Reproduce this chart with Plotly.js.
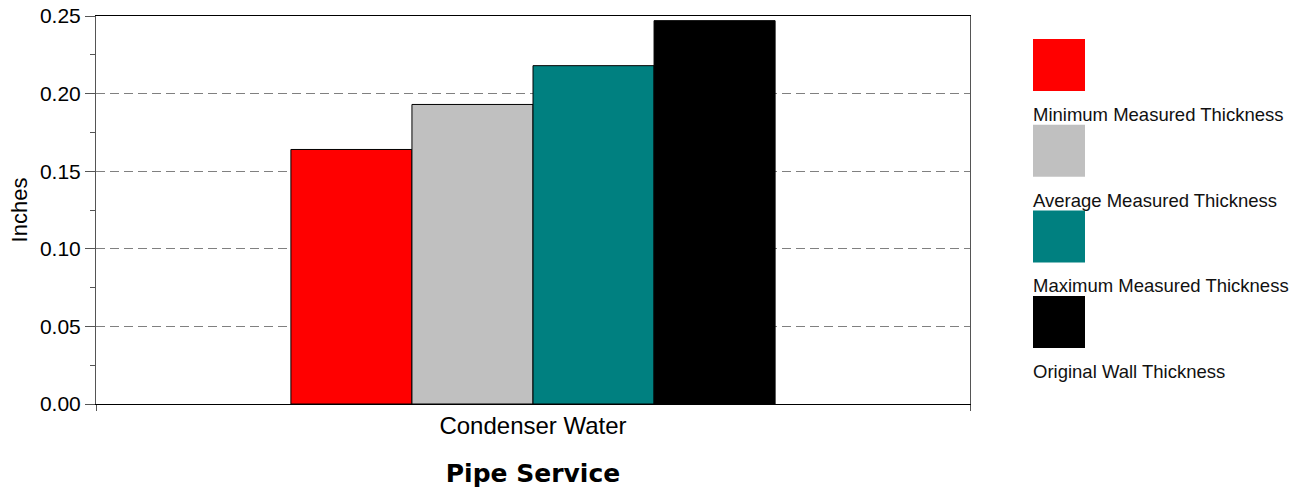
<!DOCTYPE html>
<html>
<head>
<meta charset="utf-8">
<script src="https://cdn.plot.ly/plotly-3.0.1.min.js"></script>
<style>html,body{margin:0;padding:0;background:#fff;}#chart{width:1302px;height:488px;}</style>
</head>
<body>
<div id="chart"></div>
<script>
const categories = ["Condenser Water"];
const seriesNames = ["Minimum Measured Thickness", "Average Measured Thickness", "Maximum Measured Thickness", "Original Wall Thickness"];
const seriesColors = ["#ff0000", "#c0c0c0", "#008080", "#000000"];
const minimumValues = [0.164];
const averageValues = [0.193];
const maximumValues = [0.218];
const originalValues = [0.247];
const seriesValues = [minimumValues, averageValues, maximumValues, originalValues];

const font = "'Liberation Sans', Arial, sans-serif";

const traces = seriesNames.map((name, i) => ({
  type: "bar",
  name: name,
  x: categories,
  y: seriesValues[i],
  marker: {color: seriesColors[i], line: {color: "#000000", width: 1}},
  showlegend: false,
  hoverinfo: "y+name"
}));

// Custom legend: square swatch with label below it
const shapes = [];
const annotations = [];
const legX0 = 1033, legTop = 39, sw = 52, step = 85.7;
seriesNames.forEach((name, i) => {
  const top = legTop + i * step;
  shapes.push({
    type: "rect", xref: "paper", yref: "paper",
    x0: (legX0 - 96) / 874, x1: (legX0 + sw - 96) / 874,
    y0: 1 - (top + sw - 16) / 388, y1: 1 - (top - 16) / 388,
    fillcolor: seriesColors[i], line: {width: 0}
  });
  annotations.push({
    xref: "paper", yref: "paper",
    x: (legX0 - 2 - 96) / 874, y: 1 - (top + sw + 23.5 - 16) / 388,
    xanchor: "left", yanchor: "middle", showarrow: false,
    text: name, font: {family: font, size: 18.5, color: "#111"}
  });
});

const layout = {
  width: 1302, height: 488,
  margin: {l: 96, r: 332, t: 16, b: 84, pad: 0},
  paper_bgcolor: "#ffffff", plot_bgcolor: "#ffffff",
  barmode: "group",
  bargap: 0.446, bargroupgap: 0,
  showlegend: false,
  font: {family: font, size: 16, color: "#000"},
  xaxis: {
    type: "category",
    range: [-0.5, 0.5],
    showline: true, linecolor: "#000", linewidth: 1, mirror: true,
    ticks: "outside", tickson: "boundaries", ticklen: 6, tickcolor: "#555",
    showgrid: false,
    tickfont: {family: font, size: 24, color: "#000"},
    title: {text: "Pipe Service", font: {family: "'DejaVu Sans', sans-serif", size: 25, color: "#000", weight: "bold"}, standoff: 28},
    fixedrange: true
  },
  yaxis: {
    range: [0, 0.25],
    tickvals: [0, 0.05, 0.1, 0.15, 0.2, 0.25],
    tickformat: ".2f",
    showline: true, linecolor: "#555", linewidth: 1, mirror: true,
    ticks: "outside", ticklen: 10, tickcolor: "#555",
    minor: {dtick: 0.025, ticks: "outside", ticklen: 5, tickcolor: "#555", showgrid: false},
    showgrid: true, gridcolor: "#808080", griddash: "9px,5px", gridwidth: 1,
    zeroline: false,
    tickfont: {family: font, size: 21, color: "#000"},
    title: {text: "Inches", font: {family: font, size: 22, color: "#000"}, standoff: 6},
    fixedrange: true
  },
  shapes: shapes,
  annotations: annotations
};

Plotly.newPlot("chart", traces, layout, {displayModeBar: false, staticPlot: true});
</script>
</body>
</html>
